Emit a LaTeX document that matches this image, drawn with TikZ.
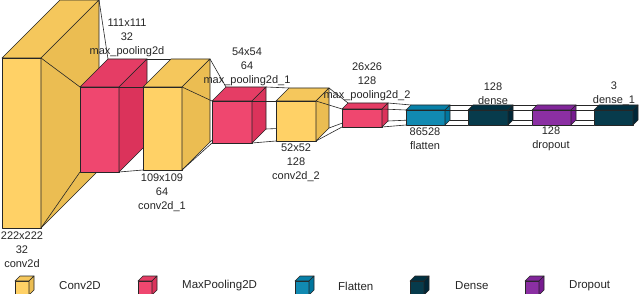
\documentclass[tikz,border=0pt]{standalone}
\usepackage{fontspec}
\setmainfont{Liberation Sans}
\usetikzlibrary{calc}
\definecolor{convF}{HTML}{FFD166}\definecolor{convT}{HTML}{F5C75C}\definecolor{convS}{HTML}{EBBD52}
\definecolor{poolF}{HTML}{EF476F}\definecolor{poolT}{HTML}{E53D65}\definecolor{poolS}{HTML}{DB335B}
\definecolor{flatF}{HTML}{118AB2}\definecolor{flatT}{HTML}{0780A8}\definecolor{flatS}{HTML}{00769E}
\definecolor{densF}{HTML}{073B4C}\definecolor{densT}{HTML}{003142}\definecolor{densS}{HTML}{002738}
\definecolor{dropF}{HTML}{8B2FA3}\definecolor{dropT}{HTML}{81259A}\definecolor{dropS}{HTML}{771B90}
\tikzset{
  boxline/.style={draw=black!85, line width=0.6pt, line join=round},
  funnel/.style={draw=black!85, line width=0.6pt},
  lbl/.style={font=\fontsize{11}{14}\selectfont, align=center, inner sep=0pt, text=black!85},
  legtext/.style={font=\fontsize{11.5}{14}\selectfont, anchor=west, inner sep=0pt, text=black!85}
}
% corners: name, x, y, w, h, d
\newcommand{\kcoords}[6]{%
  \coordinate (#1-ftl) at (#2,#3);
  \coordinate (#1-ftr) at (#2+#4,#3);
  \coordinate (#1-fbl) at (#2,#3+#5);
  \coordinate (#1-fbr) at (#2+#4,#3+#5);
  \coordinate (#1-btl) at (#2+#6,#3-#6);
  \coordinate (#1-btr) at (#2+#4+#6,#3-#6);
  \coordinate (#1-bbr) at (#2+#4+#6,#3+#5-#6);
  \coordinate (#1-bbl) at (#2+#6,#3+#5-#6);
}
% draw box: name, colour prefix
\newcommand{\kdraw}[2]{%
  \filldraw[boxline, fill=#2F] (#1-ftl) rectangle (#1-fbr);
  \filldraw[boxline, fill=#2T] (#1-ftl) -- (#1-btl) -- (#1-btr) -- (#1-ftr) -- cycle;
  \filldraw[boxline, fill=#2S] (#1-ftr) -- (#1-btr) -- (#1-bbr) -- (#1-fbr) -- cycle;
}
\newcommand{\funnel}[2]{%
  \draw[funnel] (#1-ftr) -- (#2-ftl);
  \draw[funnel] (#1-btr) -- (#2-btl);
  \draw[funnel] (#1-fbr) -- (#2-fbl);
  \draw[funnel] (#1-bbr) -- (#2-bbl);
}
\begin{document}
\begin{tikzpicture}[x=1pt,y=-1pt]
\useasboundingbox (0,0) rectangle (640,294);
\fill[white] (0,0) rectangle (640,294);
% layer geometry
\kcoords{c0}{2}{58}{39}{170}{58}
\kcoords{p0}{80}{87}{39}{85}{28}
\kcoords{c1}{143}{87}{39}{83}{28}
\kcoords{p1}{212}{101}{40}{42}{14}
\kcoords{c2}{276}{101}{40}{40}{13}
\kcoords{p2}{342}{109}{40}{18}{6}
\kcoords{fl}{406}{110}{39}{15}{5}
\kcoords{d0}{468}{110}{40}{15}{5}
\kcoords{dr}{532}{110}{39}{15}{5}
\kcoords{d1}{594}{110}{39}{15}{5}
% layers and funnels
\kdraw{c0}{conv}
\funnel{c0}{p0}
\kdraw{p0}{pool}
\funnel{p0}{c1}
\kdraw{c1}{conv}
\funnel{c1}{p1}
\kdraw{p1}{pool}
\funnel{p1}{c2}
\kdraw{c2}{conv}
\funnel{c2}{p2}
\kdraw{p2}{pool}
\funnel{p2}{fl}
\kdraw{fl}{flat}
\funnel{fl}{d0}
\kdraw{d0}{dens}
\funnel{d0}{dr}
\kdraw{dr}{drop}
\funnel{dr}{d1}
\kdraw{d1}{dens}
% labels
\node[lbl] (l-p0) at (127,38) {111x111\\32\\max\_pooling2d};
\node[lbl] (l-c0) at (22,250) {222x222\\32\\conv2d};
\node[lbl] (l-c1) at (162,193) {109x109\\64\\conv2d\_1};
\node[lbl] (l-p1) at (247,67) {54x54\\64\\max\_pooling2d\_1};
\node[lbl] (l-c2) at (296,163) {52x52\\128\\conv2d\_2};
\node[lbl] (l-p2) at (367,82) {26x26\\128\\max\_pooling2d\_2};
\node[lbl] (l-fl) at (425,139) {86528\\flatten};
\node[lbl] (l-d0) at (493,94) {128\\dense};
\node[lbl] (l-dr) at (551,139) {128\\dropout};
\node[lbl] (l-d1) at (614,94) {3\\dense\_1};
% legend
\kcoords{g0}{15}{281}{14}{14}{5}\kdraw{g0}{conv}
\node[legtext] (t-g0) at (59,286) {Conv2D};
\kcoords{g1}{138}{281}{14}{14}{5}\kdraw{g1}{pool}
\node[legtext] (t-g1) at (182,286) {MaxPooling2D};
\kcoords{g2}{295}{281}{14}{14}{5}\kdraw{g2}{flat}
\node[legtext] (t-g2) at (338,286) {Flatten};
\kcoords{g3}{410}{281}{14}{14}{5}\kdraw{g3}{dens}
\node[legtext] (t-g3) at (455,286) {Dense};
\kcoords{g4}{525}{281}{14}{14}{5}\kdraw{g4}{drop}
\node[legtext] (t-g4) at (569,286) {Dropout};
\end{tikzpicture}
\end{document}
